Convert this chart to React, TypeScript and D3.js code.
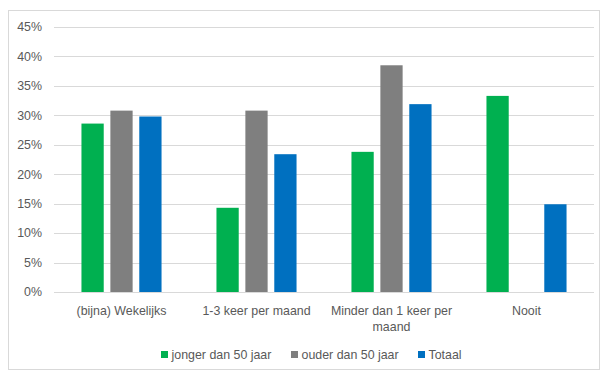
import React from "react";
import * as d3 from "d3";

const categories = ["(bijna) Wekelijks", "1-3 keer per maand", "Minder dan 1 keer per maand", "Nooit"];
const categoryLines = [["(bijna) Wekelijks"], ["1-3 keer per maand"], ["Minder dan 1 keer per", "maand"], ["Nooit"]];
const seriesNames = ["jonger dan 50 jaar", "ouder dan 50 jaar", "Totaal"];
const jonger = [28.6, 14.3, 23.8, 33.3];
const ouder = [30.8, 30.8, 38.5, 0];
const totaal = [29.8, 23.4, 31.9, 14.9];
const yTicks = [0, 5, 10, 15, 20, 25, 30, 35, 40, 45];

const colors = ["#00B050", "#7F7F7F", "#0070C0"];
const W = 605;
const H = 374;
const font = "'Liberation Sans', Arial, sans-serif";
const fs = 12.4;

export default function App() {
  const series = [jonger, ouder, totaal];
  const x = d3.scaleBand().domain(categories).range([54, 594]).paddingInner(0).paddingOuter(0);
  const inner = d3.scaleBand().domain(seriesNames).range([0, x.bandwidth()]).paddingInner(0.23).paddingOuter(0.95);
  const y = d3.scaleLinear().domain([0, 45]).range([292, 27]);

  const legendX = [161, 291, 418];

  return (
    <svg width={W} height={H} style={{ position: "absolute", left: 0, top: 0 }}>
      <rect x={0} y={0} width={W} height={H} fill="#fff" />
      <rect x={8.5} y={10.5} width={591} height={359} fill="#fff" stroke="#D9D9D9" />
      {yTicks.map((t) => (
        <g key={t}>
          <line x1={54} x2={594} y1={Math.round(y(t)) + 0.5} y2={Math.round(y(t)) + 0.5} stroke="#D9D9D9" />
          <text x={42} y={y(t)} dy="0.35em" textAnchor="end" fontFamily={font} fontSize={fs} fill="#595959">
            {t}%
          </text>
        </g>
      ))}
      {categories.map((c, ci) => (
        <g key={c}>
          {series.map((s, si) =>
            s[ci] > 0 ? (
              <rect
                key={si}
                x={(x(c) as number) + (inner(seriesNames[si]) as number)}
                y={y(s[ci])}
                width={inner.bandwidth()}
                height={y(0) - y(s[ci])}
                fill={colors[si]}
              />
            ) : null
          )}
          {categoryLines[ci].map((line, li) => (
            <text
              key={li}
              x={(x(c) as number) + x.bandwidth() / 2}
              y={314.5 + li * 16}
              textAnchor="middle"
              fontFamily={font}
              fontSize={fs}
              fill="#595959"
            >
              {line}
            </text>
          ))}
        </g>
      ))}
      {seriesNames.map((n, i) => (
        <g key={n}>
          <rect x={legendX[i]} y={351} width={7} height={7} fill={colors[i]} />
          <text x={legendX[i] + 10.5} y={359} fontFamily={font} fontSize={fs} fill="#595959">
            {n}
          </text>
        </g>
      ))}
    </svg>
  );
}
